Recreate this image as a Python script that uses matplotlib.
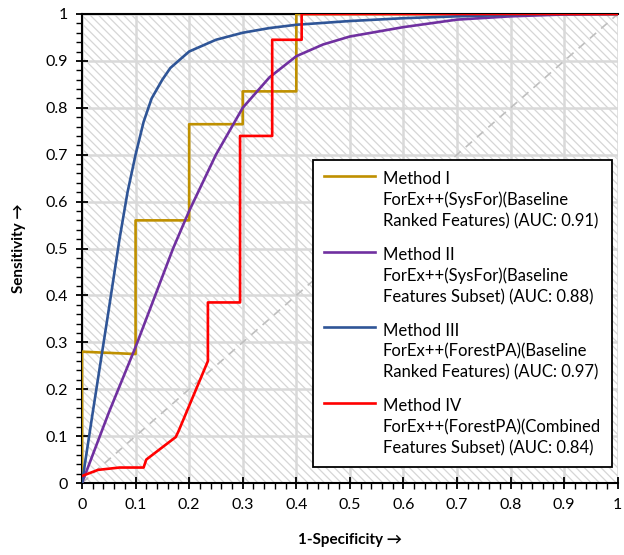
import matplotlib
matplotlib.use("Agg")
import matplotlib.pyplot as plt
from matplotlib.patches import Rectangle
from matplotlib.lines import Line2D
from matplotlib.legend_handler import HandlerLine2D
from matplotlib.ticker import MultipleLocator

plt.rcParams['font.family'] = ['Lato', 'DejaVu Sans']
plt.rcParams['hatch.linewidth'] = 0.9

# ---- data ----
m1_x = [0, 0, 0.1, 0.1, 0.2, 0.2, 0.3, 0.3, 0.4, 0.4, 1.0]
m1_y = [0, 0.28, 0.275, 0.56, 0.56, 0.765, 0.765, 0.835, 0.835, 1.0, 1.0]

m2_x = [0, 0.05, 0.1, 0.15, 0.17, 0.2, 0.25, 0.3, 0.35, 0.4, 0.45, 0.5, 0.6, 0.7, 0.8, 0.9, 1.0]
m2_y = [0, 0.15, 0.29, 0.44, 0.50, 0.58, 0.70, 0.80, 0.865, 0.91, 0.935, 0.952, 0.972, 0.988, 0.995, 0.999, 1.0]

m3_x = [0, 0.02, 0.05, 0.07, 0.085, 0.1, 0.115, 0.13, 0.15, 0.165, 0.2, 0.25, 0.3, 0.35, 0.4, 0.5, 0.6, 0.7, 0.8, 0.9, 1.0]
m3_y = [0, 0.15, 0.37, 0.52, 0.62, 0.70, 0.77, 0.82, 0.86, 0.885, 0.92, 0.945, 0.96, 0.97, 0.977, 0.985, 0.991, 0.995, 0.998, 1.0, 1.0]

m4_x = [0, 0.03, 0.07, 0.115, 0.12, 0.175, 0.18, 0.235, 0.235, 0.295, 0.295, 0.355, 0.355, 0.41, 0.41, 1.0]
m4_y = [0.015, 0.028, 0.033, 0.033, 0.05, 0.098, 0.11, 0.26, 0.385, 0.385, 0.74, 0.74, 0.945, 0.945, 1.0, 1.0]

labels = [
    "Method I\nForEx++(SysFor)(Baseline\nRanked Features) (AUC: 0.91)",
    "Method II\nForEx++(SysFor)(Baseline\nFeatures Subset) (AUC: 0.88)",
    "Method III\nForEx++(ForestPA)(Baseline\nRanked Features) (AUC: 0.97)",
    "Method IV\nForEx++(ForestPA)(Combined\nFeatures Subset) (AUC: 0.84)",
]
colors = ['#BF9000', '#7030A0', '#2F5597', '#FF0000']
ticks = [0, 0.1, 0.2, 0.3, 0.4, 0.5, 0.6, 0.7, 0.8, 0.9, 1]
tick_labels = ['0', '0.1', '0.2', '0.3', '0.4', '0.5', '0.6', '0.7', '0.8', '0.9', '1']

fig = plt.figure(figsize=(6.24, 5.55), dpi=100)
ax = fig.add_axes([0.1314, 0.1297, 0.8586, 0.8451])
ax.set_xlim(0, 1)
ax.set_ylim(0, 1)

# hatched background
bg = Rectangle((0, 0), 1, 1, transform=ax.transAxes, facecolor='white',
               edgecolor='#d6d6d6', hatch='\\\\\\\\', linewidth=0, zorder=0)
ax.add_patch(bg)
ax.set_axisbelow(True)
ax.grid(True, which='major', color='#d9d9d9', linewidth=1.8, zorder=1)

# diagonal
ax.plot([0, 1], [0, 1], color='#bfbfbf', lw=1.2, dashes=(5, 4), zorder=2)

xs = [m1_x, m2_x, m3_x, m4_x]
ys = [m1_y, m2_y, m3_y, m4_y]
handles = []
for x, y, c, lab in zip(xs, ys, colors, labels):
    h, = ax.plot(x, y, color=c, lw=1.9, zorder=3, solid_joinstyle='round', label=lab)
    handles.append(h)

ax.set_xticks(ticks)
ax.set_xticklabels(tick_labels)
ax.set_yticks(ticks)
ax.set_yticklabels(tick_labels)
ax.xaxis.set_minor_locator(MultipleLocator(0.02))
ax.yaxis.set_minor_locator(MultipleLocator(0.02))
ax.tick_params(which='major', direction='inout', length=8, width=1.3, labelsize=11.5)
ax.tick_params(axis='x', which='major', pad=7)
ax.tick_params(axis='y', which='major', pad=6)
ax.tick_params(which='minor', direction='out', length=4, width=1.0)
for s in ['left', 'bottom', 'top']:
    ax.spines[s].set_color('black')
    ax.spines[s].set_linewidth(1.5)
ax.spines['right'].set_visible(False)

ax.set_xlabel('1-Specificity →', fontsize=11, fontweight='bold', labelpad=15)
ax.set_ylabel('Sensitivity →', fontsize=11, fontweight='bold', labelpad=14)


class TopHandler(HandlerLine2D):
    def create_artists(self, legend, orig_handle, xdescent, ydescent, width, height, fontsize, trans):
        arts = super().create_artists(legend, orig_handle, xdescent, ydescent, width, height, fontsize, trans)
        for a in arts:
            if isinstance(a, Line2D):
                a.set_ydata([1.85 * fontsize] * len(a.get_ydata()))
        return arts


leg = ax.legend(handles=handles, loc='lower right', bbox_to_anchor=(0.989, 0.034),
                borderaxespad=0, fontsize=12, frameon=True, fancybox=False,
                handlelength=3.1, handletextpad=0.45, labelspacing=1.05,
                borderpad=0.65,
                handler_map={Line2D: TopHandler()})
leg.get_frame().set_edgecolor('black')
leg.get_frame().set_linewidth(1.3)
leg.get_frame().set_alpha(1)
for t in leg.get_texts():
    t.set_linespacing(1.37)

fig.savefig('out.png', dpi=100)
